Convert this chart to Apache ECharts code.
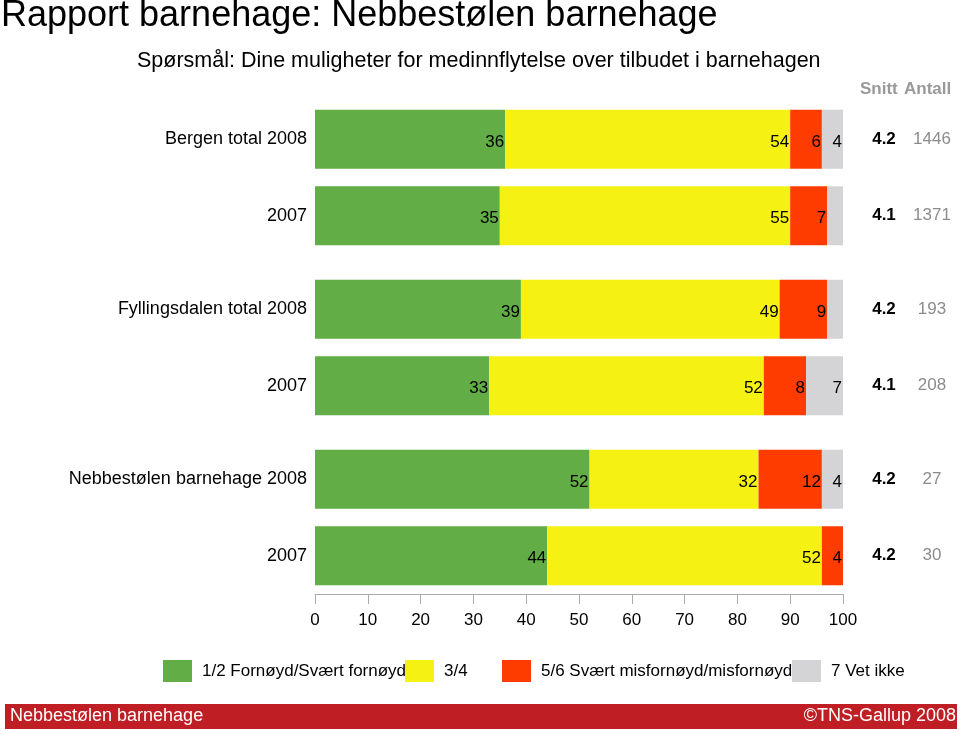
<!DOCTYPE html>
<html><head><meta charset="utf-8">
<script src="https://cdn.jsdelivr.net/npm/echarts@6/dist/echarts.min.js"></script>
<style>html,body{margin:0;padding:0;background:#fff}#c{width:960px;height:731px}</style>
</head><body><div id="c"></div>
<script>
const groups = ['Bergen total', 'Fyllingsdalen total', 'Nebbestølen barnehage'];
const years = ['2008', '2007'];
const seriesNames = ['1/2 Fornøyd/Svært fornøyd', '3/4', '5/6 Svært misfornøyd/misfornøyd', '7 Vet ikke'];
const satisfied    = [36, 35, 39, 33, 52, 44];
const neutral      = [54, 55, 49, 52, 32, 52];
const dissatisfied = [6, 7, 9, 8, 12, 4];
const dontKnow     = [4, 3, 3, 7, 4, 0];
const average = ['4.2', '4.1', '4.2', '4.1', '4.2', '4.2'];
const counts  = [1446, 1371, 193, 208, 27, 30];
const xTicks = [0, 10, 20, 30, 40, 50, 60, 70, 80, 90, 100];

const colors = ['#62ad45', '#f5f213', '#ff3c00', '#d4d4d6'];
const values = [satisfied, neutral, dissatisfied, dontKnow];
const FONT = '"Liberation Sans", Arial, Helvetica, sans-serif';

const gridTops = [101, 271, 441];
const grid = [], xAxis = [], yAxis = [], series = [];
groups.forEach((g, gi) => {
  grid.push({left: 315, width: 528, top: gridTops[gi], height: 153});
  const last = gi === groups.length - 1;
  xAxis.push({
    gridIndex: gi, type: 'value', min: xTicks[0], max: xTicks[xTicks.length - 1], interval: 10,
    show: last,
    axisLine: {show: true, lineStyle: {color: '#aaaaaa', width: 1}},
    axisTick: {show: true, length: 10, lineStyle: {color: '#aaaaaa'}},
    axisLabel: {fontSize: 17, color: '#000', fontFamily: FONT, margin: 18},
    splitLine: {show: false}
  });
  yAxis.push({
    gridIndex: gi, type: 'category', inverse: true,
    data: years.map((y, yi) => yi === 0 ? g + ' ' + y : y),
    axisLine: {show: false}, axisTick: {show: false},
    axisLabel: {fontSize: 18, color: '#000', fontFamily: FONT, margin: 8}
  });
  yAxis.push({
    gridIndex: gi, type: 'category', inverse: true, position: 'right',
    data: years.map((y, yi) => String(gi * 2 + yi)),
    axisLine: {show: false}, axisTick: {show: false},
    axisLabel: {
      margin: 21, fontFamily: FONT,
      formatter: v => '{a|' + average[+v] + '}{b|' + counts[+v] + '}',
      rich: {
        a: {width: 40, align: 'center', fontWeight: 'bold', fontSize: 17, color: '#000', fontFamily: FONT},
        b: {width: 56, align: 'center', fontSize: 17, color: '#8c8c8c', fontFamily: FONT}
      }
    }
  });
  values.forEach((arr, si) => {
    series.push({
      type: 'bar', name: seriesNames[si], stack: 'g' + gi,
      xAxisIndex: gi, yAxisIndex: gi * 2,
      barWidth: 59,
      itemStyle: {color: colors[si]},
      label: {
        show: true, position: 'insideRight', distance: 1, offset: [0, 3],
        fontSize: 17, color: '#000', fontFamily: FONT,
        formatter: p => (p.value >= 4 ? String(p.value) : '')
      },
      data: [arr[gi * 2], arr[gi * 2 + 1]],
      silent: true
    });
  });
});

const legendLeft = [163, 405, 502, 792];
const legend = seriesNames.map((n, i) => ({
  data: [n], left: legendLeft[i], top: 660, padding: 0,
  itemWidth: 29, itemHeight: 22, icon: 'rect', selectedMode: false,
  textStyle: {fontSize: 17, color: '#000', fontFamily: FONT, padding: [0, 0, 0, 5]}
}));

const chart = echarts.init(document.getElementById('c'), null, {renderer: 'canvas'});
chart.setOption({
  animation: false,
  backgroundColor: '#fff',
  grid, xAxis, yAxis, series, legend,
  graphic: [
    {type: 'text', left: 1, top: -2, style: {text: 'Rapport barnehage: Nebbestølen barnehage', fontSize: 36, fontFamily: FONT, fill: '#000'}},
    {type: 'text', left: 137, top: 50, style: {text: 'Spørsmål: Dine muligheter for medinnflytelse over tilbudet i barnehagen', fontSize: 21.5, fontFamily: FONT, fill: '#000'}},
    {type: 'text', left: 860, top: 81, style: {text: 'Snitt', fontSize: 17, fontWeight: 'bold', fontFamily: FONT, fill: '#999'}},
    {type: 'text', left: 904, top: 81, style: {text: 'Antall', fontSize: 17, fontWeight: 'bold', fontFamily: FONT, fill: '#999'}},
    {type: 'rect', shape: {x: 5, y: 704, width: 952, height: 25}, style: {fill: '#bf1e24'}},
    {type: 'text', left: 10, top: 707, style: {text: 'Nebbestølen barnehage', fontSize: 18, fontFamily: FONT, fill: '#fff'}},
    {type: 'text', right: 4, top: 707, style: {text: '©TNS-Gallup 2008', fontSize: 18, fontFamily: FONT, fill: '#fff'}}
  ]
});
</script></body></html>
